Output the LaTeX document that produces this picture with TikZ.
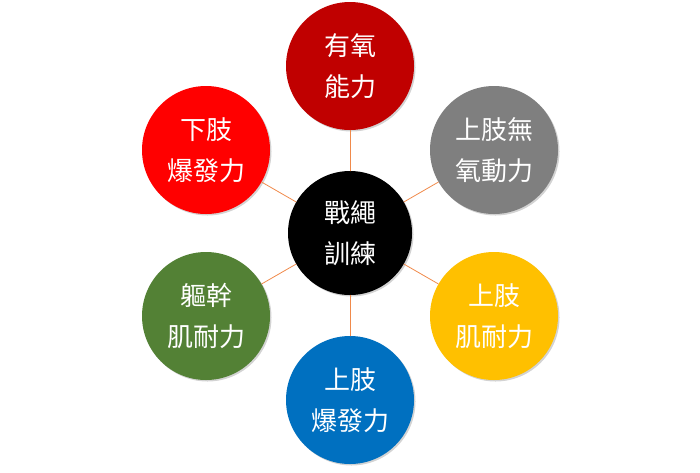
\documentclass[tikz,border=0pt]{standalone}
\usepackage{fontspec}
\newfontfamily\cjk{Noto Sans CJK TC}
\usetikzlibrary{shadows}
\definecolor{darkred}{HTML}{C00000}
\definecolor{midgray}{HTML}{7F7F7F}
\definecolor{gold}{HTML}{FFC000}
\definecolor{ocean}{HTML}{0070C0}
\definecolor{leaf}{HTML}{538135}
\definecolor{brightred}{HTML}{FF0000}
\definecolor{spokeorange}{HTML}{F08A4B}
\tikzset{
	skill/.style={circle, minimum size=128pt, inner sep=0pt, text=white, align=center,
		font=\cjk\fontsize{26}{41}\selectfont,
		drop shadow={opacity=0.35, shadow xshift=1.5pt, shadow yshift=-1.5pt}},
	spoke/.style={draw=spokeorange, line width=0.8pt}
}
\begin{document}
\begin{tikzpicture}[x=1pt, y=-1pt, line join=round, line cap=round]
	\useasboundingbox (0,0) rectangle (700,472);
	%%%%%%%%%%%%%%%%%%%%%%%%%%%%%%%%%
	\coordinate (O) at (350,233);
	%%%%%%%%%%%%%%%%%%%%%%%%%%%%%%%%%
	\node[skill, fill=black, minimum size=124pt] (rope) at (O) {戰繩\\訓練};
	\node[skill, fill=darkred] (aerobic) at (350,66) {有氧\\能力};
	\node[skill, fill=midgray] (anaerobic) at (494,150) {上肢無\\氧動力};
	\node[skill, fill=gold] (upperend) at (494,316) {上肢\\肌耐力};
	\node[skill, fill=ocean] (upperpow) at (350,400) {上肢\\爆發力};
	\node[skill, fill=leaf] (coreend) at (206,316) {軀幹\\肌耐力};
	\node[skill, fill=brightred] (lowerpow) at (206,150) {下肢\\爆發力};
	%%%%%%%%%%%%%%%%%%%%%%%%%%%%%%%%%
	\foreach \n in {aerobic, anaerobic, upperend, upperpow, coreend, lowerpow}
		\draw[spoke] (rope) -- (\n);
	%%%%%%%%%%%%%%%%%%%%%%%%%%%%%%%%%
\end{tikzpicture}
\end{document}
